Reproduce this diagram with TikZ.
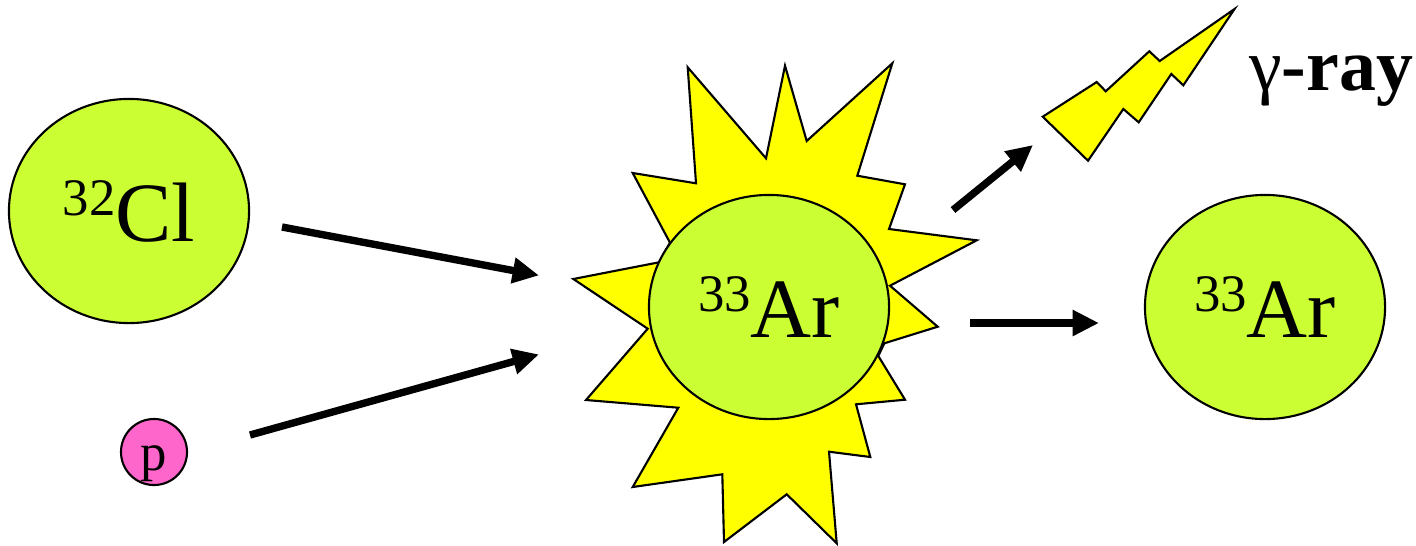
\documentclass[tikz,border=0pt]{standalone}
\usepackage{fontspec}
\setmainfont{Liberation Serif}
\usetikzlibrary{arrows.meta,shapes.geometric}
\definecolor{nucleus}{HTML}{CCFF33}
\definecolor{proton}{HTML}{FF66CC}
\definecolor{flash}{HTML}{FFFF00}
\newcommand{\isotope}[2]{\fontsize{15}{18}\selectfont\raisebox{7.4pt}{#1}\fontsize{24}{28}\selectfont #2}
\tikzset{
    nucleusnode/.style={ellipse, draw = black, fill = nucleus, line width = 0.6pt, minimum width = 2.4cm, minimum height = 2.24cm, inner sep = 0pt},
    protonnode/.style={circle, draw = black, fill = proton, line width = 0.6pt, minimum size = 0.66cm, inner sep = 0pt},
    reaction/.style={-{Triangle[length=7.5pt,width=7pt]}, line width = 2.1pt}
}
\begin{document}
\begin{tikzpicture}[x=0.01cm,y=-0.01cm]
    \useasboundingbox (0,0) rectangle (1416,545);
    \filldraw[
        fill = flash,
        draw = black,
        line width = 0.6pt
    ]
    (687.7,67.3) -- (766,158.3) -- (785,65.7) -- (806.7,141) -- (892.3,63.3) -- (857.3,175.7) -- (905,184.3) -- (889,229) -- (976.7,240.3) -- (890,285.7) -- (937.7,326.7) -- (884.3,343.3) -- (878.3,356) -- (905,399.7) -- (856,404.3) -- (870.3,457) -- (829,451.7) -- (836.7,543.3) -- (786.7,494.3) -- (724,542) -- (722.3,474.3) -- (632.7,487) -- (678.3,407.7) -- (586,400) -- (647.7,328.7) -- (573.3,279) -- (659,262.3) -- (670,242.7) -- (632.7,173) -- (696,183.3) --cycle;
    \filldraw[
        fill = flash,
        draw = black,
        line width = 0.6pt
    ]
    (1234.5,9) -- (1183.3,85.3) -- (1171.3,74) -- (1138.7,122.3) -- (1123.3,109) -- (1088,160.7) -- (1042.7,116.7) -- (1096.7,82) -- (1105.7,91.3) -- (1149.3,51.3) -- (1159.7,61) --cycle;
    \node[nucleusnode] (chlorine) at (129,211) {\isotope{32}{Cl}};
    \node[protonnode] (proton) at (154,452) {\raisebox{-5.3pt}[0pt][0pt]{\fontsize{15}{16}\selectfont p}};
    \node[nucleusnode] (excited) at (769,307) {\isotope{33}{Ar}};
    \node[nucleusnode] (argon) at (1265,307) {\isotope{33}{Ar}};
    \node (gammalabel) at (1331,81) {\fontsize{21}{24}\selectfont γ\bfseries -ray};
    \coordinate (chlorineout) at (282,227);
    \coordinate (protonout) at (250,435);
    \coordinate (mergeup) at (539,275.4);
    \coordinate (mergedown) at (539,354.4);
    \coordinate (gammaout) at (953,210);
    \coordinate (gammaend) at (1033,145);
    \coordinate (argonout) at (970,323);
    \coordinate (argonend) at (1099,323);
    \draw[reaction] (chlorineout) -- (mergeup);
    \draw[reaction] (protonout) -- (mergedown);
    \draw[reaction] (gammaout) -- (gammaend);
    \draw[reaction] (argonout) -- (argonend);
\end{tikzpicture}
\end{document}
